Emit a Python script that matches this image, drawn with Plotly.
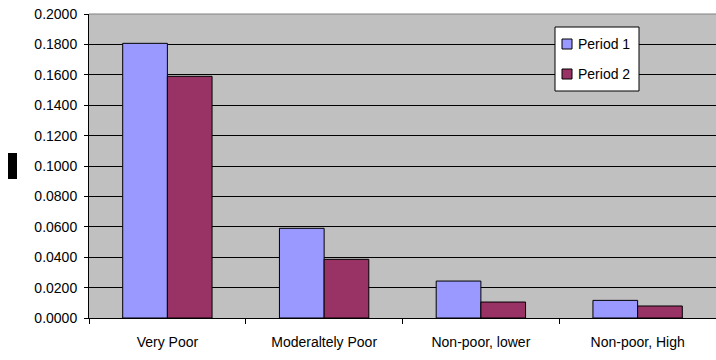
import plotly.graph_objects as go

categories = ["Very Poor", "Moderaltely Poor", "Non-poor, lower", "Non-poor, High"]
period1 = [0.1807, 0.0590, 0.0243, 0.0116]
period2 = [0.1590, 0.0386, 0.0105, 0.0079]
series_names = ["Period 1", "Period 2"]
colors = ["#9999FF", "#993366"]
yticks = [0.0, 0.02, 0.04, 0.06, 0.08, 0.10, 0.12, 0.14, 0.16, 0.18, 0.20]

L, T, B, W, H = 89, 14, 42, 716, 360
PW, PH = W - L, H - T - B


def px(x):
    return (x - L) / PW


def py(y):
    return (H - B - y) / PH


fig = go.Figure()
for name, vals, col in zip(series_names, [period1, period2], colors):
    fig.add_trace(go.Bar(
        x=categories, y=vals, name=name,
        marker=dict(color=col, line=dict(color="#000000", width=1)),
    ))

shapes = [
    dict(type="line", xref="paper", yref="paper", x0=0, x1=1, y0=1, y1=1,
         line=dict(color="#808080", width=1)),
    dict(type="rect", xref="paper", yref="paper",
         x0=px(8), x1=px(17), y0=py(179), y1=py(153),
         fillcolor="#000000", line=dict(width=0)),
    # manual legend box
    dict(type="rect", xref="paper", yref="paper",
         x0=px(555), x1=px(639), y0=py(91), y1=py(27),
         fillcolor="#FFFFFF", line=dict(color="#000000", width=1)),
]
annotations = []
legend_rows = [44, 74]
for name, col, yc in zip(series_names, colors, legend_rows):
    shapes.append(dict(type="rect", xref="paper", yref="paper",
                       x0=px(562), x1=px(572), y0=py(yc + 5), y1=py(yc - 5),
                       fillcolor=col, line=dict(color="#000000", width=1)))
    annotations.append(dict(xref="paper", yref="paper", x=px(576), y=py(yc),
                            xanchor="left", yanchor="middle", text=name,
                            showarrow=False, font=dict(size=14)))

fig.update_layout(
    width=W, height=H,
    margin=dict(l=L, r=0, t=T, b=B),
    paper_bgcolor="#FFFFFF",
    plot_bgcolor="#C0C0C0",
    barmode="group",
    bargap=0.43,
    bargroupgap=0,
    font=dict(family="Liberation Sans, Arial, sans-serif", size=14, color="#000000"),
    showlegend=False,
    xaxis=dict(
        showgrid=False, showline=True, linecolor="#000000", linewidth=1,
        ticks="outside", ticklen=5, tickcolor="#000000", tickson="boundaries",
        ticklabelstandoff=11,
    ),
    yaxis=dict(
        range=[0, 0.2], tickvals=yticks, tickformat=".4f",
        showgrid=True, gridcolor="#000000", gridwidth=1,
        showline=True, linecolor="#000000", linewidth=1,
        ticks="outside", ticklen=4, tickcolor="#000000",
        ticklabelstandoff=4, zeroline=False,
    ),
    shapes=shapes,
    annotations=annotations,
)

fig.write_html("out.html")
